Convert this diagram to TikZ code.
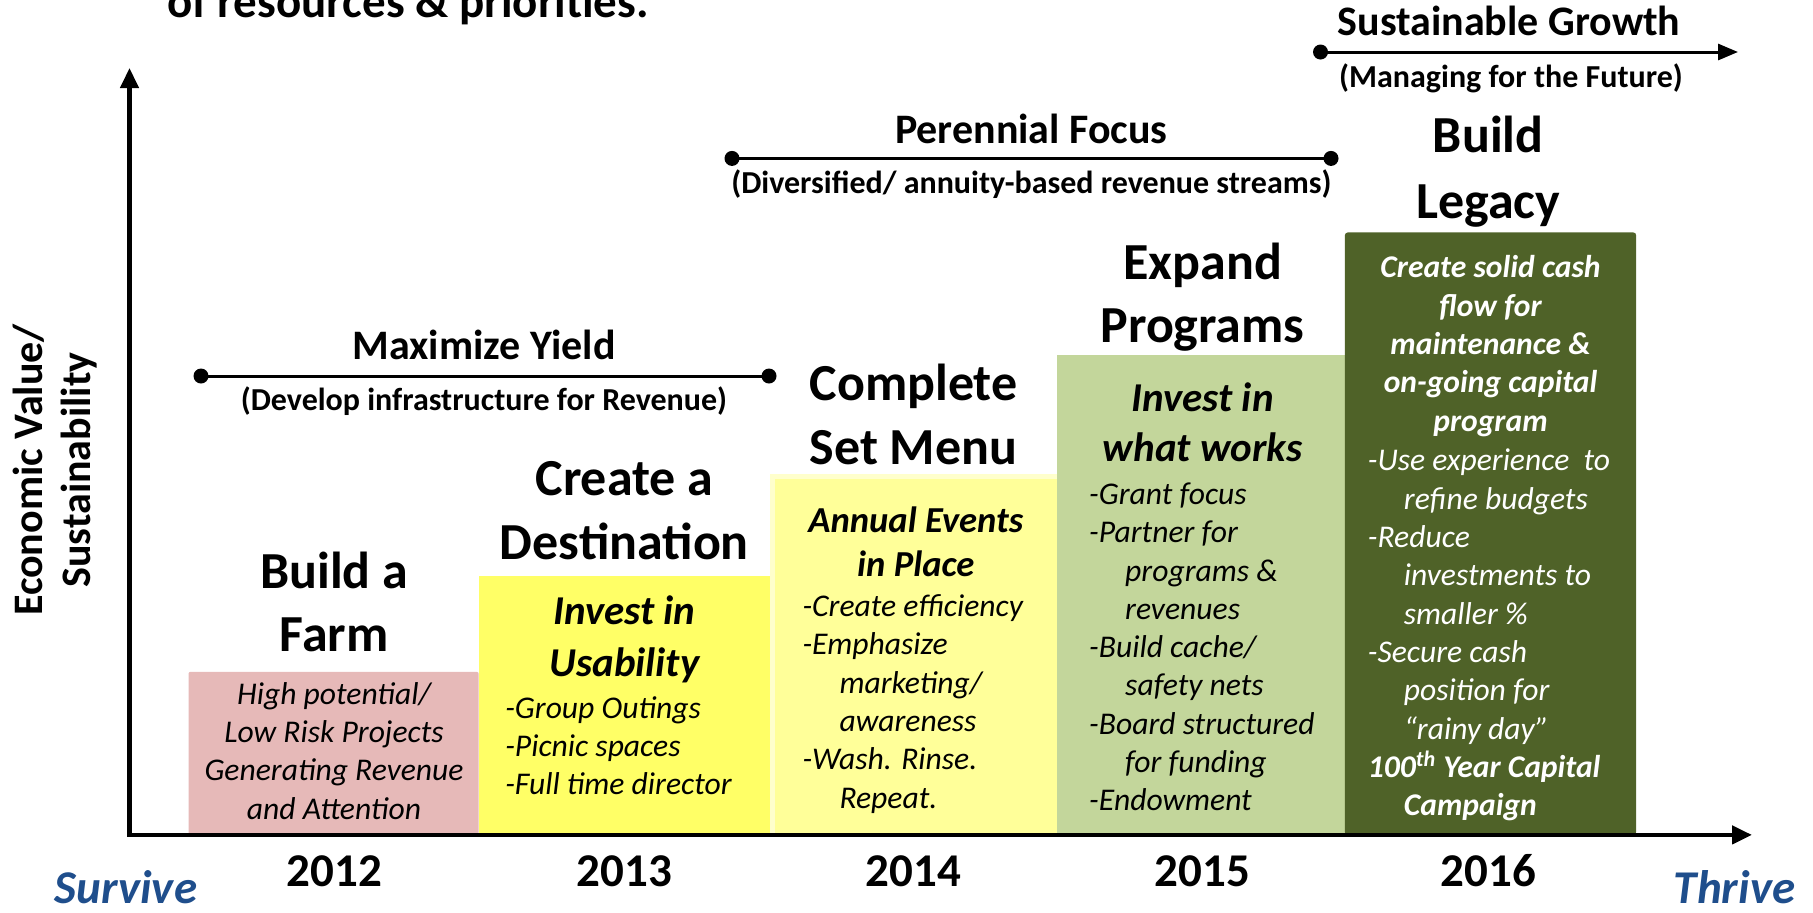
\documentclass[tikz,border=0pt]{standalone}
\usepackage{fontspec}
\setmainfont{Carlito}
\usetikzlibrary{arrows.meta}

\definecolor{pinkbox}{HTML}{E6B9B8}
\definecolor{yelbox}{HTML}{FFFF66}
\definecolor{paleyel}{HTML}{FFFF99}
\definecolor{paleedge}{HTML}{FFFFCC}
\definecolor{sagebox}{HTML}{C3D69B}
\definecolor{olivebox}{HTML}{4F6228}
\definecolor{poleblue}{HTML}{1F4E8C}

\begin{document}
\begin{tikzpicture}[
  x=0.5pt, y=-0.5pt,
  every node/.style={inner sep=0pt, outer sep=0pt},
  title/.style={font=\fontsize{26}{32}\selectfont\bfseries, anchor=base},
  rangehead/.style={font=\fontsize{21}{25}\selectfont\bfseries, anchor=base},
  rangesub/.style={font=\fontsize{16}{19}\selectfont\bfseries, anchor=base},
  boxhead/.style={font=\fontsize{20.5}{25}\selectfont\bfseries\itshape, anchor=base},
  item/.style={font=\fontsize{15.8}{19}\selectfont\itshape, anchor=base west},
  centered item/.style={font=\fontsize{15.8}{19}\selectfont\itshape, anchor=base},
  yearlabel/.style={font=\fontsize{23.5}{28}\selectfont\bfseries, anchor=base},
  pole/.style={font=\fontsize{23.5}{28}\selectfont\bfseries\itshape, text=poleblue, anchor=base},
  rangeline/.style={line width=1.5pt},
  rangedot/.style={fill=black},
  axisline/.style={line width=2.2pt, line join=miter,
    {Triangle[length=10pt,width=9pt]}-{Triangle[length=10pt,width=9pt]}}
]
\useasboundingbox (0,0) rectangle (1813,912);

% heading line cut by the top edge
\node[font=\fontsize{23.5}{28}\selectfont\bfseries, anchor=base west] (toptext) at (167,17) {of resources \& priorities.};

% yearly blocks
\fill[pinkbox, rounded corners=1pt] (188.5,671.8) rectangle (478.7,834.9);
\fill[yelbox] (478.7,575.8) rectangle (770,834.9);
\fill[paleedge] (770,474) rectangle (1056.9,834.9);
\fill[paleyel] (775,479) rectangle (1056.9,834.9);
\fill[sagebox] (1056.9,355) rectangle (1344.8,834.9);
\fill[olivebox, rounded corners=1.5pt] (1344.8,232.4) rectangle (1636.2,834.9);

% axes
\coordinate (ytop) at (129.5,68);
\coordinate (origin) at (129.5,834.9);
\coordinate (xend) at (1752,834.9);
\draw[axisline] (ytop) -- (origin) -- (xend);

\node[rotate=90, align=center, font=\fontsize{21}{24}\selectfont\bfseries] (ylabel) at (55,470) {Economic Value/\\Sustainability};

% phase ranges
\coordinate (my1) at (201,376);
\coordinate (my2) at (769,376);
\draw[rangeline] (my1) -- (my2);
\fill[rangedot] (my1) circle (3.75pt);
\fill[rangedot] (my2) circle (3.75pt);
\node[rangehead] (myhead) at (484,359.5) {Maximize Yield};
\node[rangesub] (mysub) at (484,410.8) {(Develop infrastructure for Revenue)};

\coordinate (pf1) at (732,158.4);
\coordinate (pf2) at (1331,158.4);
\draw[rangeline] (pf1) -- (pf2);
\fill[rangedot] (pf1) circle (3.75pt);
\fill[rangedot] (pf2) circle (3.75pt);
\node[rangehead] (pfhead) at (1031.4,143.3) {Perennial Focus};
\node[rangesub] (pfsub) at (1031.4,193.5) {(Diversified/ annuity-based revenue streams)};

\coordinate (sg1) at (1320.5,52);
\coordinate (sg2) at (1738,52);
\draw[rangeline, -{Triangle[length=10pt,width=8pt]}] (sg1) -- (sg2);
\fill[rangedot] (sg1) circle (3.75pt);
\node[rangehead] (sghead) at (1509,35.7) {Sustainable Growth};
\node[rangesub] (sgsub) at (1511,87.1) {(Managing for the Future)};

% stage titles
\node[title] (t1a) at (334.2,588) {Build a};
\node[title] (t1b) at (334.2,651.6) {Farm};
\node[title] (t2a) at (624.4,495.5) {Create a};
\node[title] (t2b) at (624.4,559.1) {Destination};
\node[title] (t3a) at (913.5,400.6) {Complete};
\node[title] (t3b) at (913.5,464.2) {Set Menu};
\node[title] (t4a) at (1202.6,279.2) {Expand};
\node[title] (t4b) at (1202.6,342.8) {Programs};
\node[title] (t5a) at (1488.2,152) {Build};
\node[title] (t5b) at (1488.2,218) {Legacy};

% 2012
\foreach \txt [count=\i from 0] in {High potential/, Low Risk Projects, Generating Revenue, and Attention}
  \node[centered item] (b1l\i) at (334,704.5+38.2*\i) {\txt};

% 2013
\node[boxhead] (b2h1) at (624.4,624) {Invest in};
\node[boxhead] (b2h2) at (624.4,676) {Usability};
\foreach \txt [count=\i from 0] in {-Group Outings, -Picnic spaces, -Full time director}
  \node[item] (b2l\i) at (505.3,718.3+38.2*\i) {\txt};

% 2014
\node[boxhead, font=\fontsize{18.3}{22}\selectfont\bfseries\itshape] (b3h1) at (915.8,532.5) {Annual Events};
\node[boxhead, font=\fontsize{18.3}{22}\selectfont\bfseries\itshape] (b3h2) at (915.8,576.4) {in Place};
\foreach \txt [count=\i from 0] in {-Create efficiency, -Emphasize, \hspace*{18.5pt}marketing/, \hspace*{18.5pt}awareness, -Wash. Rinse., \hspace*{18.5pt}Repeat.}
  \node[item] (b3l\i) at (802.5,616.5+38.3*\i) {\txt};

% 2015
\node[boxhead] (b4h1) at (1202.6,411.4) {Invest in};
\node[boxhead] (b4h2) at (1202.6,461.1) {what works};
\foreach \txt [count=\i from 0] in {-Grant focus, -Partner for, \hspace*{18pt}programs \&, \hspace*{18pt}revenues, -Build cache/, \hspace*{18pt}safety nets, -Board structured, \hspace*{18pt}for funding, -Endowment}
  \node[item] (b4l\i) at (1089.2,504.4+38.3*\i) {\txt};

% 2016
\begin{scope}[every node/.append style={text=white}]
\foreach \txt [count=\i from 0] in {Create solid cash, flow for, maintenance \&, on-going capital, program}
  \node[centered item, font=\fontsize{15.8}{19}\selectfont\bfseries\itshape] (b5h\i) at (1490.5,277.8+38.3*\i) {\txt};
\foreach \txt [count=\i from 0] in {-Use experience\ \ to, \hspace*{18pt}refine budgets, -Reduce, \hspace*{18pt}investments to, \hspace*{18pt}smaller \%, -Secure cash, \hspace*{18pt}position for, \hspace*{18pt}“rainy day”}
  \node[item] (b5l\i) at (1367.9,470.9+38.3*\i) {\txt};
\node[item, font=\fontsize{15.8}{19}\selectfont\bfseries\itshape] (b5c1) at (1367.9,777.3) {100\textsuperscript{th} Year Capital};
\node[item, font=\fontsize{15.8}{19}\selectfont\bfseries\itshape] (b5c2) at (1367.9,815.6) {\hspace*{18pt}Campaign};
\end{scope}

% years and poles
\node[yearlabel] (y12) at (334.2,886) {2012};
\node[yearlabel] (y13) at (624.4,886) {2013};
\node[yearlabel] (y14) at (913.5,886) {2014};
\node[yearlabel] (y15) at (1202.6,886) {2015};
\node[yearlabel] (y16) at (1488.2,886) {2016};
\node[pole] (survive) at (126,903) {Survive};
\node[pole] (thrive) at (1734.5,903) {Thrive};
\end{tikzpicture}
\end{document}
